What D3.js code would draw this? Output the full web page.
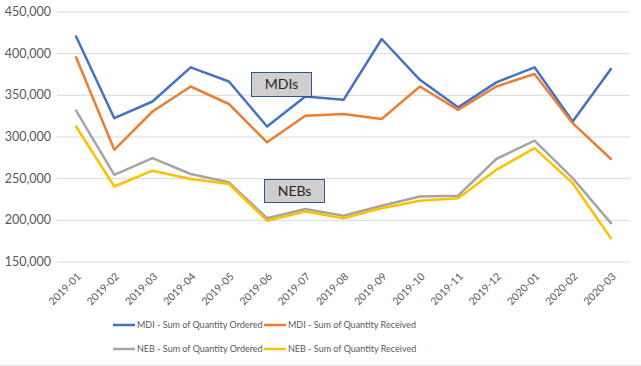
<!DOCTYPE html>
<html><head><meta charset="utf-8">
<script src="https://cdn.jsdelivr.net/npm/d3@7"></script>
<style>body{margin:0;background:#fff}svg{display:block}</style>
</head><body><div id="chart"></div>
<script>
const months = ["2019-01","2019-02","2019-03","2019-04","2019-05","2019-06","2019-07","2019-08","2019-09","2019-10","2019-11","2019-12","2020-01","2020-02","2020-03"];
const mdiOrdered  = [420000,322000,342000,383000,366000,312000,348000,344000,417000,368000,335000,365000,383000,318000,381000];
const mdiReceived = [395000,284000,330000,360000,339000,293000,325000,327000,321000,360000,332000,360000,375000,316000,273000];
const nebOrdered  = [331000,254000,274000,255000,245000,202000,213000,205000,217000,228000,229000,273000,295000,250000,196000];
const nebReceived = [312000,240000,259000,249000,243000,199000,210000,202000,214000,223000,226000,260000,286000,244000,178000];
const yTicks = [150000,200000,250000,300000,350000,400000,450000];
const seriesNames = ["MDI - Sum of Quantity Ordered","MDI - Sum of Quantity Received","NEB - Sum of Quantity Ordered","NEB - Sum of Quantity Received"];
const seriesColors = ["#4472C4","#ED7D31","#A5A5A5","#FFC000"];
const annotations = ["MDIs","NEBs"];

(function(){
const W=641,H=366;
const svg=d3.select("#chart").append("svg").attr("width",W).attr("height",H);
const font="Lato, 'Open Sans', sans-serif";
const pLeft=57,pRight=630,pTop=11.5,pBottom=261.5;
const x=d3.scaleBand().domain(months).range([pLeft,pRight]);
const y=d3.scaleLinear().domain([150000,450000]).range([pBottom,pTop]);
const cx=d=>x(d)+x.bandwidth()/2;

svg.append("line").attr("x1",0).attr("x2",W).attr("y1",H-0.5).attr("y2",H-0.5).attr("stroke","#e6e6e6");

const yAxis=d3.axisLeft(y).tickValues(yTicks).tickFormat(d3.format(",")).tickSize(-(pRight-pLeft)).tickPadding(6);
const gy=svg.append("g").attr("transform",`translate(${pLeft},0)`).call(yAxis);
gy.select(".domain").remove();
gy.selectAll(".tick line").attr("stroke","#d9d9d9").attr("stroke-width",1);
gy.selectAll(".tick text").attr("fill","#595959").style("font-family",font).style("font-size","12.5px");

const xAxis=d3.axisBottom(x).tickSize(0).tickPadding(0);
const gx=svg.append("g").attr("transform",`translate(0,${pBottom})`).call(xAxis);
gx.select(".domain").remove();
gx.selectAll(".tick text").attr("fill","#595959").style("font-family",font).style("font-size","10.5px")
  .attr("text-anchor","end").attr("y",0).attr("dy","0.35em")
  .attr("transform","translate(3,13) rotate(-45)");

const all=[mdiOrdered,mdiReceived,nebOrdered,nebReceived];
const line=d3.line().x((d,i)=>cx(months[i])).y(d=>y(d));
all.forEach((s,k)=>{
  svg.append("path").datum(s).attr("d",line).attr("fill","none")
    .attr("stroke",seriesColors[k]).attr("stroke-width",2.5).attr("stroke-linejoin","round").attr("stroke-linecap","round");
});

const boxW=[60,60],boxH=[24,23];
const boxX=[251,264],boxY=[72,179];
annotations.forEach((a,i)=>{
  const g=svg.append("g");
  g.append("rect").attr("x",boxX[i]+0.5).attr("y",boxY[i]+0.5).attr("width",boxW[i]).attr("height",boxH[i])
    .attr("fill","#d0cece").attr("stroke","#2f5597").attr("stroke-width",1);
  g.append("text").attr("x",boxX[i]+boxW[i]/2+0.5).attr("y",boxY[i]+boxH[i]/2+0.5).attr("dy","0.35em")
    .attr("text-anchor","middle").attr("fill","#262626").style("font-family",font).style("font-size","14px").text(a);
});

const legPos=[[113,325],[264,325],[113,349],[264,349]];
seriesNames.forEach((n,i)=>{
  const [lx,ly]=legPos[i];
  svg.append("line").attr("x1",lx).attr("x2",lx+22).attr("y1",ly).attr("y2",ly)
    .attr("stroke",seriesColors[i]).attr("stroke-width",2.5);
  svg.append("text").attr("x",lx+24).attr("y",ly).attr("dy","0.35em").attr("fill","#595959")
    .style("font-family",font).style("font-size","9px").text(n);
});
})();
</script></body></html>
